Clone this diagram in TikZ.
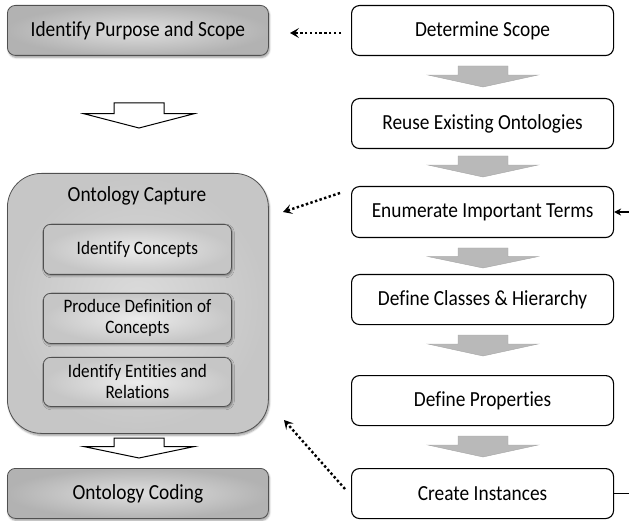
\documentclass[tikz,border=0pt]{standalone}
\usepackage{fontspec}
\setmainfont{Carlito}[FakeStretch=0.9, Ligatures=NoCommon]
\usetikzlibrary{arrows.meta,shadows.blur}
\definecolor{boxedge}{HTML}{505050}
\tikzset{
  x=1pt, y=-1pt,
  stepbox/.style={draw=black, line width=1.1pt, rounded corners=8pt, fill=white,
    minimum width=262pt, minimum height=50pt, font=\fontsize{21.5}{24}\selectfont, anchor=north west},
  graybox/.style={draw=boxedge, line width=0.8pt, rounded corners=8pt,
    inner color=gray!25, outer color=gray!60,
    blur shadow={shadow xshift=1pt, shadow yshift=-2pt, shadow blur steps=5},
    minimum width=261pt, minimum height=50pt, font=\fontsize{21.5}{24}\selectfont, anchor=north west},
  innerbox/.style={draw=boxedge, line width=0.8pt, rounded corners=7pt,
    inner color=gray!15, outer color=gray!45,
    blur shadow={shadow xshift=1pt, shadow yshift=-1.5pt, shadow blur steps=4},
    minimum width=188pt, minimum height=50pt, align=center, inner sep=1pt,
    font=\fontsize{19}{21}\selectfont, anchor=north west},
  flowarrow/.style={fill=gray!55, draw=gray!70, line width=0.4pt},
  hollowarrow/.style={fill=white, draw=black, line width=1pt, line join=miter},
  dotarrow/.style={line width=2.4pt, dash pattern=on 2.4pt off 2.4pt,
    -{Stealth[length=9pt,width=10pt,inset=4pt]}},
}
% block arrow pointing down: #2 = centre x, #3 = top y, #4 = bottom y
\newcommand{\grayflow}[4][flowarrow]{%
  \path[#1] (#2-25,#3) -- (#2+25,#3) -- (#2+25,{#3+0.43*(#4-#3)}) -- (#2+55,{#3+0.43*(#4-#3)})
    -- (#2,#4) -- (#2-55,{#3+0.43*(#4-#3)}) -- (#2-25,{#3+0.43*(#4-#3)}) -- cycle;}
\begin{document}
\begin{tikzpicture}
\useasboundingbox (0,0) rectangle (629,521);

% right column: method steps
\node[stepbox] (ds) at (351,5) {Determine Scope};
\node[stepbox] (reuse) at (351,98) {Reuse Existing Ontologies};
\node[stepbox, minimum height=51pt] (enum) at (351,186) {Enumerate Important Terms};
\node[stepbox] (classes) at (351,274) {Define Classes \& Hierarchy};
\node[stepbox] (props) at (351,375) {Define Properties};
\node[stepbox] (inst) at (351,468) {Create Instances};

\grayflow{483}{66}{87}
\grayflow{483}{156}{177}
\grayflow{483}{248}{268}
\grayflow{483}{335}{356}
\grayflow{483}{436}{457}

% left column: development phases
\node[graybox] (purpose) at (7,5) {Identify Purpose and Scope};

\node[draw=boxedge, line width=0.8pt, rounded corners=34pt,
  inner color=gray!28, outer color=gray!45,
  blur shadow={shadow xshift=1pt, shadow yshift=-2pt, shadow blur steps=5},
  minimum width=261pt, minimum height=260pt, anchor=north west] (capture) at (7,173) {};
\node[font=\fontsize{21.5}{24}\selectfont] (captitle) at (137,196) {Ontology Capture};
\node[innerbox] (concepts) at (43,224) {Identify Concepts};
\node[innerbox] (defs) at (43,293) {Produce Definition of\\Concepts};
\node[innerbox, minimum height=49pt] (rels) at (43,357) {Identify Entities and\\Relations};

\node[graybox] (coding) at (7,468) {Ontology Coding};

\grayflow[hollowarrow]{139}{103}{128}
\grayflow[hollowarrow]{139}{438}{458}

% correspondences between the two columns
\coordinate (c1) at (290,33);
\coordinate (c2) at (283,212);
\coordinate (c3) at (284,420);
\draw[dotarrow] (341,33) -- (c1);
\draw[dotarrow] (340,193) -- (c2);
\draw[dotarrow] (345,489) -- (c3);

% iteration loop from the last step back to term enumeration
\coordinate (loop) at (640,0);
\draw[line width=1.1pt, -{Stealth[length=7pt,width=7pt]}]
  (inst.east) -- (inst.east -| loop) -- (enum.east -| loop) -- (enum.east);
\end{tikzpicture}
\end{document}
